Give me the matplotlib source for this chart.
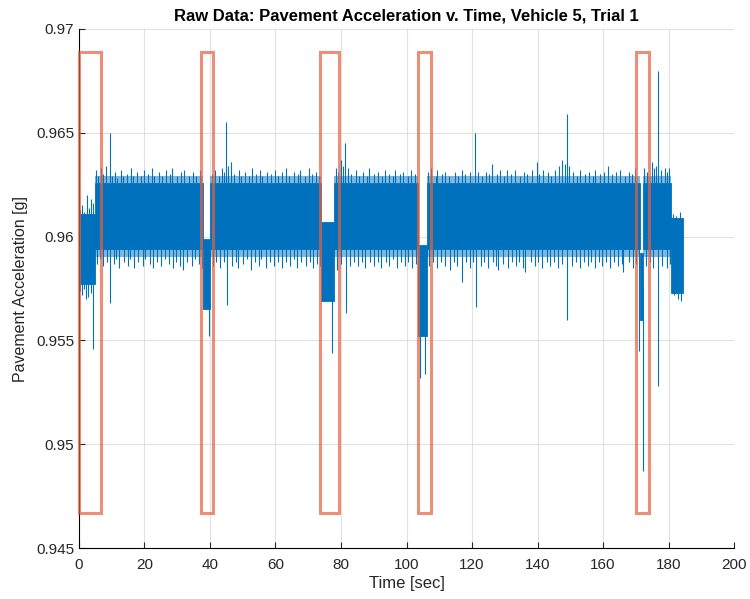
import numpy as np
import matplotlib
matplotlib.use("Agg")
import matplotlib.pyplot as plt
from matplotlib.patches import Rectangle

plt.rcParams['font.family'] = ['Liberation Sans', 'DejaVu Sans']

# dense part of the signal, as blocks of (start, end, low, high)
seg_start = [0.0, 5.0, 38.0, 40.0, 74.0, 77.8, 103.6, 106.3, 171.3, 172.3, 180.8]
seg_end = [5.0, 38.0, 40.0, 74.0, 77.8, 103.6, 106.3, 171.3, 172.3, 180.8, 184.4]
seg_low = [0.9577, 0.9594, 0.9565, 0.9594, 0.9569, 0.9594, 0.9552, 0.9594, 0.9560, 0.9594, 0.9573]
seg_high = [0.9611, 0.9626, 0.9599, 0.9626, 0.9607, 0.9626, 0.9596, 0.9626, 0.9592, 0.9626, 0.9609]

# peaks sticking out above the band
up_t = [0.4, 1.0, 1.6, 2.6, 3.1, 3.8, 4.4, 5.3,
        5.9, 6.6, 7.4, 8.3, 9.5, 10.1, 11.0, 11.6,
        12.9, 13.4, 14.6, 15.9, 16.5, 17.7, 19.0, 19.8,
        21.1, 22.3, 23.0, 24.4, 25.2, 26.6, 27.8, 28.3,
        29.9, 31.0, 32.2, 33.5, 34.7, 35.6, 36.9, 40.7,
        41.5, 42.8, 43.6, 44.3, 45.0, 45.6, 46.4, 47.3,
        48.9, 49.5, 50.8, 52.0, 52.7, 54.1, 55.3, 56.0,
        57.4, 58.6, 59.9, 60.7, 62.0, 63.3, 64.1, 65.5,
        66.8, 67.6, 68.9, 70.2, 71.0, 72.3, 73.2, 78.5,
        79.2, 80.1, 80.7, 81.2, 82.1, 83.2, 84.6, 85.4,
        86.7, 87.9, 88.6, 90.0, 91.2, 92.5, 93.3, 94.6,
        95.8, 96.5, 97.9, 99.0, 100.4, 101.5, 102.7, 106.7,
        107.6, 108.9, 109.3, 110.7, 111.9, 113.0, 114.8, 115.6,
        116.9, 118.0, 119.3, 121.0, 121.7, 123.0, 124.2, 125.3,
        126.0, 127.5, 128.6, 129.9, 130.6, 132.0, 133.0, 134.6,
        135.8, 136.9, 138.2, 139.7, 140.5, 141.8, 143.3, 144.1,
        145.4, 146.5, 147.5, 148.3, 149.0, 149.7, 150.9, 152.1,
        153.0, 154.4, 155.6, 156.8, 157.6, 159.1, 160.4, 161.6,
        162.7, 163.9, 165.2, 166.6, 167.8, 169.0, 169.8, 172.6,
        173.5, 174.9, 175.7, 176.3, 176.8, 177.6, 178.9, 179.5,
        180.2, 181.4, 182.3, 183.5]
up_v = [0.9613, 0.9615, 0.9612, 0.9620, 0.9614, 0.9618, 0.9616, 0.9632,
        0.9629, 0.9633, 0.9630, 0.9634, 0.9650, 0.9629, 0.9631, 0.9628,
        0.9632, 0.9629, 0.9630, 0.9633, 0.9629, 0.9631, 0.9629, 0.9632,
        0.9630, 0.9633, 0.9629, 0.9631, 0.9629, 0.9632, 0.9630, 0.9633,
        0.9629, 0.9631, 0.9632, 0.9629, 0.9631, 0.9629, 0.9632, 0.9630,
        0.9632, 0.9629, 0.9633, 0.9631, 0.9655, 0.9634, 0.9636, 0.9630,
        0.9632, 0.9629, 0.9631, 0.9629, 0.9633, 0.9630, 0.9632, 0.9629,
        0.9631, 0.9630, 0.9632, 0.9629, 0.9631, 0.9633, 0.9629, 0.9631,
        0.9630, 0.9632, 0.9629, 0.9633, 0.9630, 0.9631, 0.9629, 0.9633,
        0.9631, 0.9637, 0.9634, 0.9645, 0.9633, 0.9630, 0.9632, 0.9629,
        0.9631, 0.9629, 0.9633, 0.9630, 0.9631, 0.9629, 0.9632, 0.9630,
        0.9629, 0.9632, 0.9630, 0.9631, 0.9629, 0.9632, 0.9630, 0.9631,
        0.9633, 0.9629, 0.9632, 0.9630, 0.9631, 0.9629, 0.9631, 0.9629,
        0.9632, 0.9630, 0.9631, 0.9650, 0.9631, 0.9629, 0.9631, 0.9630,
        0.9635, 0.9630, 0.9632, 0.9629, 0.9632, 0.9630, 0.9632, 0.9629,
        0.9631, 0.9630, 0.9632, 0.9636, 0.9630, 0.9632, 0.9631, 0.9629,
        0.9632, 0.9634, 0.9637, 0.9635, 0.9659, 0.9634, 0.9631, 0.9629,
        0.9632, 0.9630, 0.9631, 0.9629, 0.9632, 0.9630, 0.9631, 0.9634,
        0.9630, 0.9631, 0.9632, 0.9629, 0.9631, 0.9630, 0.9633, 0.9633,
        0.9631, 0.9636, 0.9633, 0.9634, 0.9680, 0.9632, 0.9633, 0.9631,
        0.9633, 0.9611, 0.9610, 0.9612]

# dips hanging below the band
down_t = [0.3, 0.9, 1.5, 2.2, 2.8, 3.6, 4.3, 5.6,
          6.4, 7.3, 8.5, 9.5, 10.6, 11.4, 12.3, 13.7,
          14.9, 15.6, 16.8, 18.1, 19.4, 20.2, 21.6, 22.7,
          23.9, 25.1, 26.3, 27.5, 28.8, 29.7, 30.9, 31.7,
          33.1, 34.4, 35.5, 36.7, 37.6, 39.6, 40.9, 41.8,
          43.0, 44.2, 45.2, 46.6, 47.9, 48.7, 50.1, 51.3,
          52.4, 53.6, 54.9, 55.7, 57.1, 58.4, 59.6, 60.8,
          62.1, 63.2, 64.5, 65.8, 66.6, 67.9, 69.2, 70.4,
          71.6, 72.8, 73.6, 77.2, 78.7, 79.9, 81.5, 82.6,
          83.9, 85.2, 86.4, 87.3, 88.8, 90.1, 91.3, 92.2,
          93.6, 94.8, 95.9, 97.1, 98.2, 99.5, 100.6, 101.8,
          102.9, 104.2, 105.7, 106.9, 108.1, 109.4, 110.6, 111.7,
          113.2, 114.4, 115.5, 116.8, 118.2, 119.4, 120.3, 121.2,
          122.6, 123.8, 125.0, 126.3, 127.4, 128.0, 129.5, 130.9,
          132.1, 133.3, 134.5, 135.6, 136.2, 137.9, 139.1, 140.3,
          141.4, 142.8, 143.9, 145.1, 146.2, 147.4, 149.0, 150.4,
          151.6, 152.9, 154.1, 155.3, 156.4, 157.7, 158.9, 159.6,
          161.0, 162.2, 163.4, 164.6, 165.7, 166.2, 167.9, 169.1,
          170.0, 171.0, 172.2, 173.1, 174.2, 175.3, 176.8, 178.1,
          179.4, 180.4, 181.8, 182.8, 183.8]
down_v = [0.9574, 0.9572, 0.9575, 0.9570, 0.9571, 0.9573, 0.9546, 0.9587,
          0.9589, 0.9586, 0.9588, 0.9568, 0.9587, 0.9589, 0.9585, 0.9588,
          0.9586, 0.9589, 0.9585, 0.9588, 0.9586, 0.9589, 0.9587, 0.9585,
          0.9588, 0.9586, 0.9589, 0.9587, 0.9585, 0.9588, 0.9586, 0.9584,
          0.9588, 0.9586, 0.9589, 0.9587, 0.9585, 0.9552, 0.9586, 0.9588,
          0.9585, 0.9588, 0.9567, 0.9586, 0.9588, 0.9585, 0.9587, 0.9589,
          0.9584, 0.9588, 0.9586, 0.9589, 0.9585, 0.9588, 0.9586, 0.9588,
          0.9585, 0.9588, 0.9586, 0.9589, 0.9585, 0.9588, 0.9586, 0.9588,
          0.9585, 0.9587, 0.9586, 0.9544, 0.9584, 0.9587, 0.9563, 0.9586,
          0.9588, 0.9586, 0.9588, 0.9585, 0.9588, 0.9586, 0.9588, 0.9585,
          0.9588, 0.9586, 0.9589, 0.9585, 0.9588, 0.9586, 0.9588, 0.9585,
          0.9587, 0.9532, 0.9534, 0.9586, 0.9588, 0.9585, 0.9588, 0.9586,
          0.9584, 0.9588, 0.9586, 0.9578, 0.9588, 0.9585, 0.9588, 0.9566,
          0.9586, 0.9588, 0.9585, 0.9588, 0.9586, 0.9584, 0.9587, 0.9585,
          0.9588, 0.9586, 0.9588, 0.9585, 0.9583, 0.9588, 0.9586, 0.9588,
          0.9585, 0.9588, 0.9586, 0.9588, 0.9585, 0.9587, 0.9560, 0.9586,
          0.9588, 0.9585, 0.9588, 0.9586, 0.9588, 0.9585, 0.9588, 0.9586,
          0.9588, 0.9585, 0.9588, 0.9586, 0.9587, 0.9583, 0.9588, 0.9585,
          0.9587, 0.9545, 0.9487, 0.9586, 0.9588, 0.9585, 0.9528, 0.9586,
          0.9585, 0.9587, 0.9572, 0.9570, 0.9569]

assert len(up_t) == len(up_v) and len(down_t) == len(down_v)

# highlighted time windows
box_start = [0.0, 37.2, 73.6, 103.5, 170.2]
box_end = [6.8, 40.9, 79.4, 107.4, 174.1]
box_low = 0.9467
box_high = 0.9689

blue = '#0072BD'
red = '#E5603F'
ink = '#262626'

fig = plt.figure(figsize=(7.5, 5.99), dpi=100)
ax = fig.add_axes([0.1053, 0.0851, 0.8734, 0.8665])

for t0, t1, lo, hi in zip(seg_start, seg_end, seg_low, seg_high):
    ax.fill_between([t0, t1], lo, hi, color=blue, lw=0.6, edgecolor=blue)
    if hi > 0.962:
        # ragged edges of the noise, drawn as a half-tone strip
        ax.fill_between([t0, t1], hi, hi + 0.0003, color=blue, alpha=0.5, lw=0)
        ax.fill_between([t0, t1], lo - 0.0004, lo, color=blue, alpha=0.5, lw=0)


def band_middle(t):
    i = np.searchsorted(seg_start, t, side='right') - 1
    i = min(max(i, 0), len(seg_start) - 1)
    return (seg_low[i] + seg_high[i]) / 2


ax.vlines(up_t, [band_middle(t) for t in up_t], up_v, color=blue, lw=0.8)
ax.vlines(down_t, [band_middle(t) for t in down_t], down_v, color=blue, lw=0.8)

for t0, t1 in zip(box_start, box_end):
    ax.add_patch(Rectangle((t0, box_low), t1 - t0, box_high - box_low,
                           fill=False, edgecolor=red, lw=2.2, alpha=0.7,
                           clip_on=False, zorder=3))

ax.set_xlim(0, 200)
ax.set_ylim(0.945, 0.97)
ax.set_xticks(np.arange(0, 201, 20))
ax.set_yticks([0.945, 0.95, 0.955, 0.96, 0.965, 0.97])
ax.set_yticklabels(['0.945', '0.95', '0.955', '0.96', '0.965', '0.97'])
ax.grid(True, color='#e0e0e0', lw=0.8)
ax.set_axisbelow(True)
ax.spines['top'].set_visible(False)
ax.spines['right'].set_visible(False)
ax.tick_params(direction='in', length=4, labelsize=11, colors=ink)
ax.tick_params(axis='x', pad=7)

ax.set_title('Raw Data: Pavement Acceleration v. Time, Vehicle 5, Trial 1',
             fontsize=12, fontweight='bold', pad=6)
ax.set_xlabel('Time [sec]', fontsize=12, color=ink, labelpad=3)
ax.set_ylabel('Pavement Acceleration [g]', fontsize=11.5, color=ink, labelpad=6)

fig.savefig('out.png', dpi=100)
